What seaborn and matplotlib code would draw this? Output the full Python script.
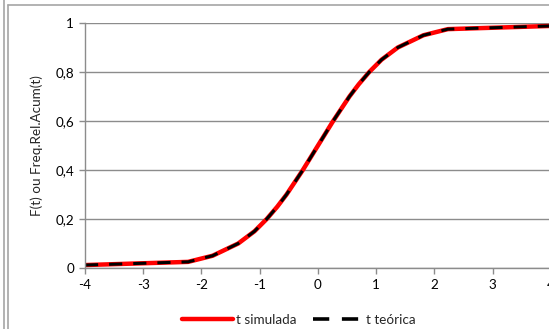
import matplotlib
matplotlib.use("Agg")
import matplotlib.pyplot as plt
import matplotlib.lines as mlines
import pandas as pd
import seaborn as sns

# values
t_values = [-4.0, -2.23, -1.81, -1.37, -1.09, -0.88, -0.70, -0.54, -0.40, -0.26, -0.13,
            0.0, 0.13, 0.26, 0.40, 0.54, 0.70, 0.88, 1.09, 1.37, 1.81, 2.23, 4.0]
f_simulada = [0.012, 0.025, 0.05, 0.10, 0.15, 0.20, 0.25, 0.30, 0.35, 0.40, 0.45,
              0.50, 0.55, 0.60, 0.65, 0.70, 0.75, 0.80, 0.85, 0.90, 0.95, 0.975, 0.988]
f_teorica = [0.012, 0.025, 0.05, 0.10, 0.15, 0.20, 0.25, 0.30, 0.35, 0.40, 0.45,
             0.50, 0.55, 0.60, 0.65, 0.70, 0.75, 0.80, 0.85, 0.90, 0.95, 0.975, 0.988]
x_ticks = [-4, -3, -2, -1, 0, 1, 2, 3, 4]
y_ticks = [0, 0.2, 0.4, 0.6, 0.8, 1]
y_tick_labels = ["0", "0,2", "0,4", "0,6", "0,8", "1"]

sns.set_style("white")
plt.rcParams['font.family'] = ['Lato', 'DejaVu Sans']
plt.rcParams['axes.unicode_minus'] = False

grid_col = "#8c8c8c"
fs = 9.7

df = pd.DataFrame({"t": t_values, "sim": f_simulada, "teo": f_teorica})

fig = plt.figure(figsize=(5.49, 3.29), dpi=100)
ax = fig.add_axes([85 / 549, 1 - 268 / 329, 466 / 549, 245 / 329])

sns.lineplot(data=df, x="t", y="sim", ax=ax, color="#ff0000", linewidth=3.2,
             label="t simulada", sort=False)
sns.lineplot(data=df, x="t", y="teo", ax=ax, color="black", linewidth=2.2,
             dashes=False, label="t teórica", sort=False)
ax.lines[1].set_dashes([4.3, 3.6])

ax.set_xlim(-4, 4)
ax.set_ylim(0, 1)
ax.set_xticks(x_ticks)
ax.set_xticklabels([str(v) for v in x_ticks])
ax.set_yticks(y_ticks)
ax.set_yticklabels(y_tick_labels)
ax.set_xlabel("")
ax.set_ylabel("")

ax.grid(axis="y", color=grid_col, linewidth=1.0)
ax.grid(axis="x", visible=False)
ax.set_axisbelow(True)
for s in ["top", "right"]:
    ax.spines[s].set_visible(False)
for s in ["left", "bottom"]:
    ax.spines[s].set_color(grid_col)
    ax.spines[s].set_linewidth(1.0)
ax.tick_params(axis="both", direction="out", length=4, width=1.0, color=grid_col,
               labelsize=fs, labelcolor="black", pad=4)
ax.tick_params(axis="x", bottom=True)
ax.tick_params(axis="y", left=True)

fig.text(37 / 549, 1 - 145.5 / 329, "F(t) ou Freq.Rel.Acum(t)", rotation=90,
         ha="center", va="center", fontsize=fs)

ax.legend_.remove()
h1 = mlines.Line2D([], [], color="#ff0000", linewidth=3.2)
h2 = mlines.Line2D([], [], color="black", linewidth=2.6, dashes=[4.5, 3.5])
fig.legend([h1, h2], ["t simulada", "t teórica"], loc="center",
           bbox_to_anchor=(299 / 549, 1 - 320 / 329), ncol=2, frameon=False,
           fontsize=fs, handlelength=3.8, handletextpad=0.2, columnspacing=1.2)

# chart border fragments
border = "#a6a6a6"
fig.add_artist(mlines.Line2D([3.5 / 549, 3.5 / 549], [0, 1], color=border, lw=1.2))
fig.add_artist(mlines.Line2D([7.5 / 549, 7.5 / 549], [0, 1 - 5 / 329], color=border, lw=1.2))
fig.add_artist(mlines.Line2D([7.5 / 549, 1], [1 - 5 / 329, 1 - 5 / 329], color=border, lw=1.2))

fig.savefig("out.png", dpi=100)
